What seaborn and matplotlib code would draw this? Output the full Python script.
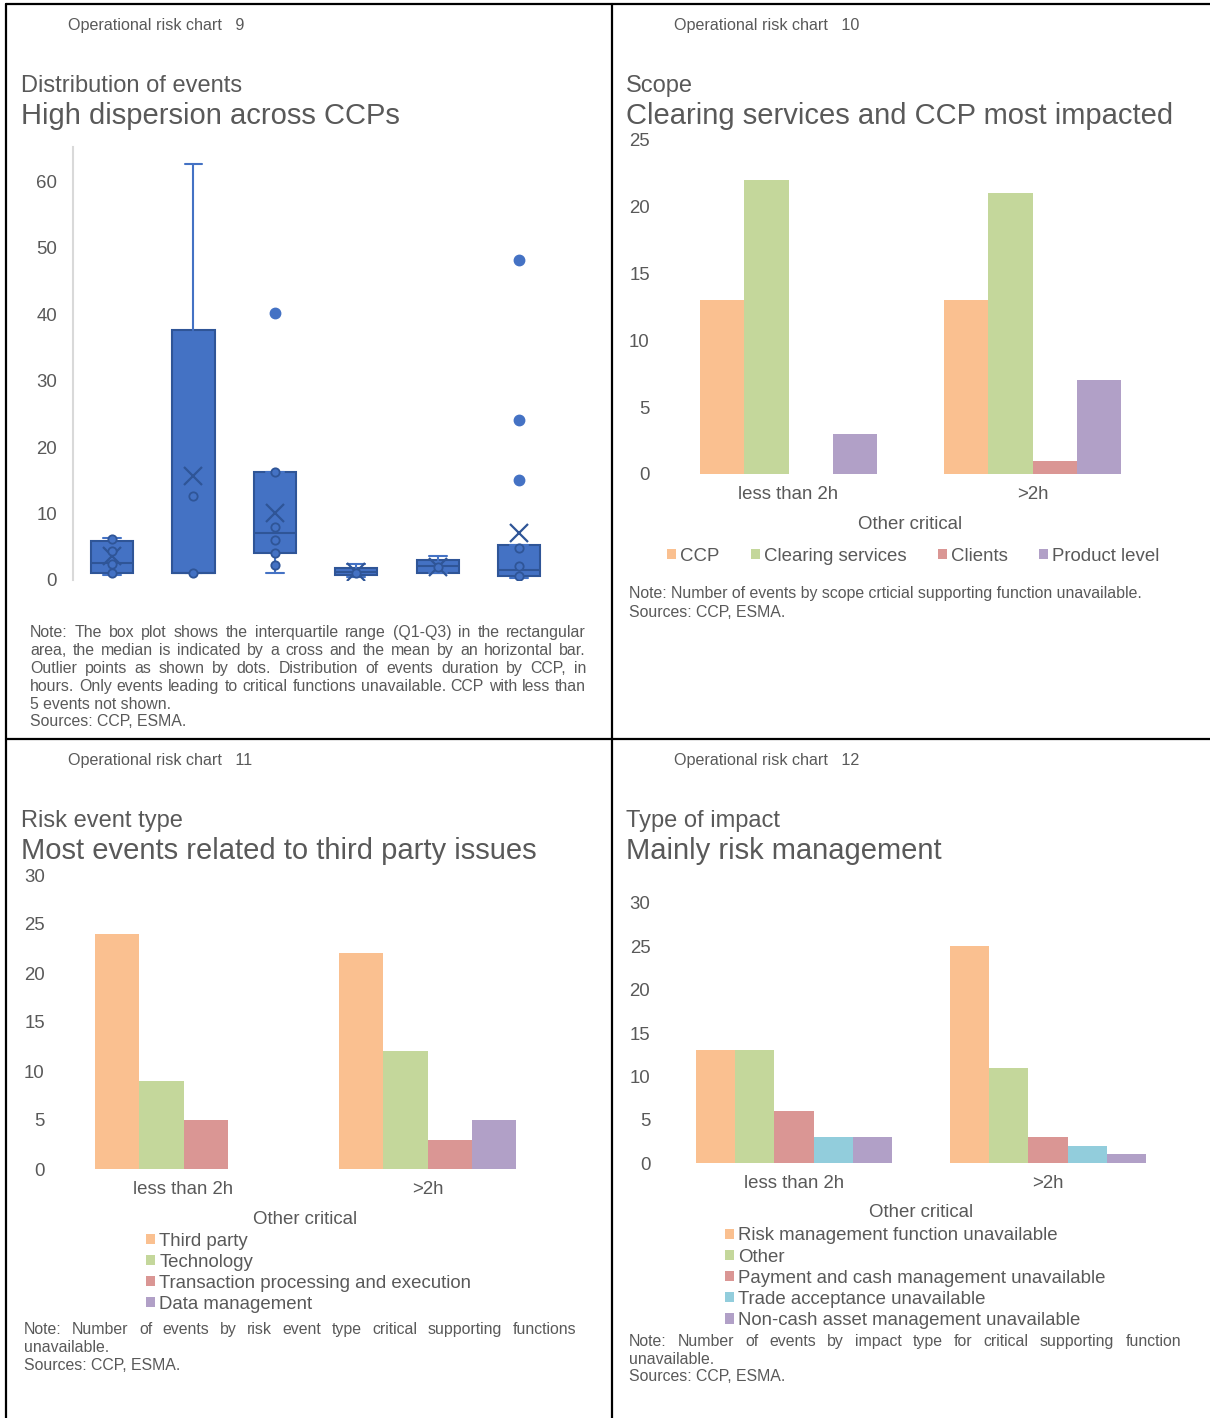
import matplotlib
matplotlib.use('Agg')
import matplotlib.pyplot as plt
from matplotlib.patches import Patch
from matplotlib.lines import Line2D
import seaborn as sns
import pandas as pd

sns.set_theme(style="white")
plt.rcParams['font.family'] = ['Liberation Sans', 'DejaVu Sans']

# ---- data ----
# chart 9: box plot of event duration by CCP (hours)
box_q1 = [1.0, 1.0, 4.1, 0.8, 1.0, 0.6]
box_med = [2.5, 1.0, 7.1, 1.25, 2.1, 1.5]
box_q3 = [5.8, 37.6, 16.2, 1.75, 3.0, 5.2]
whis_lo = [0.8, 1.0, 1.1, 0.5, 1.0, 0.3]
whis_hi = [6.3, 62.6, 16.2, 2.4, 3.6, 5.2]
box_mean = [3.6, 15.7, 10.1, 1.2, 2.0, 7.1]
outliers = [[], [], [40.2], [], [], [48.2, 24.1, 15.1]]
inner_pts = [[6.1, 4.3, 2.4, 1.0], [12.6, 1.0], [16.2, 8.0, 6.0, 4.1, 2.3],
             [1.0], [2.0], [4.8, 2.15, 0.6]]

# chart 10: scope
durations = ['less than 2h', '>2h']
scope_types = ['CCP', 'Clearing services', 'Clients', 'Product level']
scope_less2h = [13, 22, 0, 3]
scope_more2h = [13, 21, 1, 7]

# chart 11: risk event type
risk_types = ['Third party', 'Technology', 'Transaction processing and execution', 'Data management']
risk_less2h = [24, 9, 5, 0]
risk_more2h = [22, 12, 3, 5]

# chart 12: type of impact
impact_types = ['Risk management function unavailable', 'Other',
                'Payment and cash management unavailable', 'Trade acceptance unavailable',
                'Non-cash asset management unavailable']
impact_less2h = [13, 13, 6, 3, 3]
impact_more2h = [25, 11, 3, 2, 1]

ORANGE, GREEN, RED, CYAN, PURPLE = '#FAC090', '#C4D79B', '#DA9694', '#92CDDC', '#B1A0C7'
GREY = '#595959'
BLUE, DBLUE = '#4472C4', '#2F5597'

W, H = 1210, 1418
fig = plt.figure(figsize=(W / 100, H / 100), dpi=100)

HEAD_FS, SUB_FS, TITLE_FS, CHART_FS, NOTE_FS = 11.6, 17, 21, 13.4, 11.4


def px_axes(x0, y0, x1, y1):
    return fig.add_axes([x0 / W, 1 - y1 / H, (x1 - x0) / W, (y1 - y0) / H])


def ftext(x, y, s, **kw):
    # y is the visual centre in pixels, nudged to match the reference
    kw.setdefault('color', GREY)
    kw.setdefault('va', 'center')
    return fig.text(x / W, 1 - (y + 1.5) / H, s, **kw)


def note_block(lines, x0, x1, y0, step):
    r = fig.canvas.get_renderer()
    for i, (line, just) in enumerate(lines):
        y = y0 + i * step
        if not just:
            ftext(x0, y, line, fontsize=NOTE_FS)
            continue
        words = line.split(' ')
        objs = [ftext(0, y, w, fontsize=NOTE_FS) for w in words]
        widths = [o.get_window_extent(r).width for o in objs]
        gap = (x1 - x0 - sum(widths)) / (len(words) - 1)
        x = x0
        for o, w in zip(objs, widths):
            o.set_x(x / W)
            x += w + gap


def bar_panel(ax, types, less, more, colors, ymax):
    df = pd.DataFrame({
        'duration': [durations[0]] * len(types) + [durations[1]] * len(types),
        'type': types + types,
        'count': less + more,
    })
    sns.barplot(data=df, x='duration', y='count', hue='type', hue_order=types,
                palette=colors, width=0.725 if len(types) == 4 else 0.772,
                gap=0, saturation=1, linewidth=0, legend=False, ax=ax)
    ax.set_xlim(-0.5, 1.5)
    ax.set_ylim(0, ymax)
    ax.set_yticks(range(0, ymax + 1, 5))
    ax.set_xlabel('')
    ax.set_ylabel('')
    for s in ax.spines.values():
        s.set_visible(False)
    ax.tick_params(axis='y', length=0, pad=12, labelsize=CHART_FS, labelcolor=GREY)
    ax.tick_params(axis='x', length=0, pad=9, labelsize=CHART_FS, labelcolor=GREY)
    ax.patch.set_alpha(0)


def panel_legend(types, colors, x, y, ncol, loc):
    handles = [Patch(facecolor=c, edgecolor='none') for c in colors]
    fig.legend(handles, types, loc=loc, bbox_to_anchor=(x / W, 1 - y / H),
               bbox_transform=fig.transFigure, ncol=ncol, frameon=False,
               fontsize=CHART_FS, labelcolor=GREY, handlelength=0.5, handleheight=0.5,
               handletextpad=0.22, columnspacing=1.66, labelspacing=0.22,
               borderpad=0, borderaxespad=0)


# ---- panel borders ----
for (xa, ya, xb, yb) in [(6, 4, 1210, 4), (6, 4, 6, 1418), (612, 4, 612, 1418), (6, 739, 1210, 739)]:
    fig.add_artist(Line2D([xa / W, xb / W], [1 - ya / H, 1 - yb / H], color='black', lw=1.6,
                          transform=fig.transFigure))

# ---- chart 9 ----
ftext(68, 24, 'Operational risk chart   9', fontsize=HEAD_FS)
ftext(21, 84.5, 'Distribution of events', fontsize=SUB_FS)
ftext(21, 114.5, 'High dispersion across CCPs', fontsize=TITLE_FS)

ax = px_axes(73, 147, 561.4, 580)
stats = []
for i in range(len(box_q1)):
    stats.append(dict(q1=box_q1[i], med=box_med[i], q3=box_q3[i], whislo=whis_lo[i],
                      whishi=whis_hi[i], mean=box_mean[i], fliers=outliers[i], label=''))
ax.bxp(stats, positions=range(len(stats)), widths=0.52, capwidths=0.22, patch_artist=True,
       showmeans=True,
       boxprops=dict(facecolor=BLUE, edgecolor=DBLUE, linewidth=1.5),
       medianprops=dict(color=DBLUE, linewidth=1.5),
       whiskerprops=dict(color=BLUE, linewidth=1.5),
       capprops=dict(color=BLUE, linewidth=1.5),
       meanprops=dict(marker='x', markersize=13, markeredgecolor=DBLUE, markeredgewidth=1.6),
       flierprops=dict(marker='o', markerfacecolor=BLUE, markeredgecolor=BLUE, markersize=7.5))
for i, pts in enumerate(inner_pts):
    ax.scatter([i] * len(pts), pts, s=36, facecolor=BLUE, edgecolor=DBLUE, linewidth=1.3, zorder=4)
ax.set_xlim(-0.48, 5.52)
ax.set_ylim(0, 65.2)
ax.set_yticks(range(0, 61, 10))
ax.set_xticks([])
for k in ['top', 'right', 'bottom']:
    ax.spines[k].set_visible(False)
ax.spines['left'].set_color('#D9D9D9')
ax.spines['left'].set_linewidth(1.5)
ax.tick_params(axis='y', length=0, pad=11.5, labelsize=CHART_FS, labelcolor=GREY)
ax.patch.set_alpha(0)

note_block([
    ('Note: The box plot shows the interquartile range (Q1-Q3) in the rectangular', True),
    ('area, the median is indicated by a cross and the mean by an horizontal bar.', True),
    ('Outlier points as shown by dots. Distribution of events duration by CCP, in', True),
    ('hours. Only events leading to critical functions unavailable. CCP with less than', True),
    ('5 events not shown.', False),
    ('Sources: CCP, ESMA.', False),
], 30, 586, 631, 17.9)

# ---- chart 10 ----
ftext(674, 24, 'Operational risk chart   10', fontsize=HEAD_FS)
ftext(626, 84.5, 'Scope', fontsize=SUB_FS)
ftext(626, 114.5, 'Clearing services and CCP most impacted', fontsize=TITLE_FS)
ax = px_axes(666.5, 140, 1154.5, 474)
bar_panel(ax, scope_types, scope_less2h, scope_more2h, [ORANGE, GREEN, RED, PURPLE], 25)
ftext(910, 523, 'Other critical', fontsize=CHART_FS, ha='center')
panel_legend(scope_types, [ORANGE, GREEN, RED, PURPLE], 667, 556, 4, 'center left')
note_block([
    ('Note: Number of events by scope crticial supporting function unavailable.', False),
    ('Sources: CCP, ESMA.', False),
], 629, 1181, 592, 19)

# ---- chart 11 ----
ftext(68, 759, 'Operational risk chart   11', fontsize=HEAD_FS)
ftext(21, 819.5, 'Risk event type', fontsize=SUB_FS)
ftext(21, 849.5, 'Most events related to third party issues', fontsize=TITLE_FS)
ax = px_axes(61.5, 875, 549.5, 1169)
bar_panel(ax, risk_types, risk_less2h, risk_more2h, [ORANGE, GREEN, RED, PURPLE], 30)
ftext(305, 1218, 'Other critical', fontsize=CHART_FS, ha='center')
panel_legend(risk_types, [ORANGE, GREEN, RED, PURPLE], 146, 1232.5, 1, 'upper left')
note_block([
    ('Note: Number of events by risk event type critical supporting functions', True),
    ('unavailable.', False),
    ('Sources: CCP, ESMA.', False),
], 24, 576, 1328, 18)

# ---- chart 12 ----
ftext(674, 759, 'Operational risk chart   12', fontsize=HEAD_FS)
ftext(626, 819.5, 'Type of impact', fontsize=SUB_FS)
ftext(626, 849.5, 'Mainly risk management', fontsize=TITLE_FS)
ax = px_axes(667, 903, 1175, 1163)
bar_panel(ax, impact_types, impact_less2h, impact_more2h, [ORANGE, GREEN, RED, CYAN, PURPLE], 30)
ftext(921, 1211, 'Other critical', fontsize=CHART_FS, ha='center')
panel_legend(impact_types, [ORANGE, GREEN, RED, CYAN, PURPLE], 725, 1227.5, 1, 'upper left')
note_block([
    ('Note: Number of events by impact type for critical supporting function', True),
    ('unavailable.', False),
    ('Sources: CCP, ESMA.', False),
], 629, 1181, 1340, 17.5)

fig.savefig('out.png', dpi=100)
